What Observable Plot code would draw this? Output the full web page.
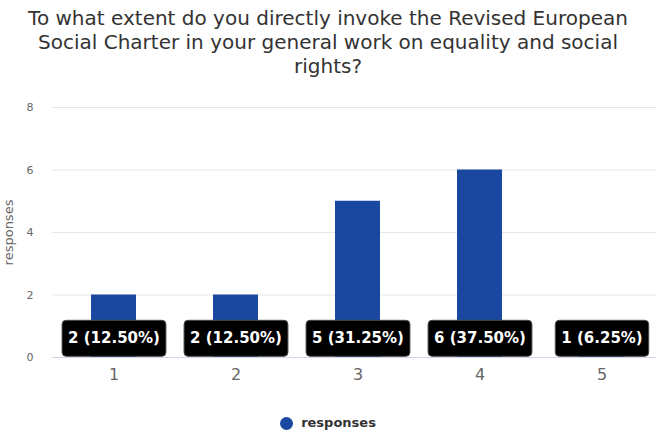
<!DOCTYPE html>
<html><head><meta charset="utf-8">
<script src="https://cdn.jsdelivr.net/npm/d3@7"></script>
<script src="https://cdn.jsdelivr.net/npm/@observablehq/plot@0.6"></script>
<style>
body{margin:0;background:#fff;font-family:"DejaVu Sans",sans-serif;}
#wrap{position:relative;width:656px;height:431px;overflow:hidden;background:#fff}
#title{position:absolute;top:6px;left:0;width:656px;text-align:center;font-size:20px;line-height:24px;color:#333}
#chart{position:absolute;top:78px;left:0}
#legend{position:absolute;top:415px;left:0;width:656px;display:flex;justify-content:center;align-items:center;font-size:13px;font-weight:bold;color:#333;line-height:16px}
#legend .sw{display:inline-block;width:13px;height:13px;border-radius:50%;margin-right:8px}
</style></head>
<body>
<div id="wrap">
  <div id="title">To what extent do you directly invoke the Revised European<br>Social Charter in your general work on equality and social<br>rights?</div>
  <div id="chart"></div>
  <div id="legend"><span class="sw"></span><span id="legtext"></span></div>
</div>
<script>
const categories = ["1", "2", "3", "4", "5"];
const responses = [2, 2, 5, 6, 1];
const yTicks = [0, 2, 4, 6, 8];
const seriesName = "responses";
const barColor = "#1a47a0";

const total = d3.sum(responses);
const data = categories.map((c, i) => ({
  cat: c,
  value: responses[i],
  label: `${responses[i]} (${(responses[i] / total * 100).toFixed(2)}%)`
}));

const chart = Plot.plot({
  width: 656,
  height: 320,
  marginLeft: 52,
  marginRight: 0,
  marginTop: 29,
  marginBottom: 41,
  style: {fontFamily: "'DejaVu Sans', sans-serif", background: "transparent"},
  x: {type: "band", domain: categories, range: [52.5, 662.5], paddingInner: 0.63, paddingOuter: 0.315},
  y: {domain: [0, 8], range: [279, 29]},
  marks: [
    Plot.gridY(yTicks.filter(d => d > 0), {stroke: "#e6e6e6", strokeOpacity: 1}),
    Plot.barY(data, {x: "cat", y: "value", fill: barColor}),
    Plot.ruleY([0], {stroke: "#ccd6eb"}),
    Plot.axisY({ticks: yTicks, tickSize: 0, tickPadding: 19, fontSize: 11, fill: "#666", label: null}),
    Plot.axisX({tickSize: 0, tickPadding: 11, fontSize: 16, fill: "#666", label: null}),
    Plot.text([seriesName], {frameAnchor: "left", textAnchor: "middle", rotate: -90, dx: -44, fill: "#666", fontSize: 13}),
    Plot.text(data, {x: "cat", y: 0, dy: -19, text: "label", fill: "white", fontWeight: "bold", fontSize: 15})
  ]
});
document.getElementById("chart").appendChild(chart);
document.querySelector("#legend .sw").style.background = barColor;
document.getElementById("legtext").textContent = seriesName;

// rounded boxes behind the percentage labels
const labelSet = new Set(data.map(d => d.label));
const svg = chart.tagName.toLowerCase() === "svg" ? chart : chart.querySelector("svg");
svg.querySelectorAll("text").forEach(t => {
  if (!labelSet.has(t.textContent)) return;
  const b = t.getBBox();
  const r = document.createElementNS("http://www.w3.org/2000/svg", "rect");
  const cy = b.y + b.height / 2;
  r.setAttribute("x", b.x - 6);
  r.setAttribute("y", cy - 18);
  r.setAttribute("width", b.width + 12);
  r.setAttribute("height", 36);
  r.setAttribute("rx", 4);
  r.setAttribute("fill", "#000");
  r.setAttribute("stroke", "#4a4a4a");
  r.setAttribute("stroke-width", 1);
  if (t.getAttribute("transform")) r.setAttribute("transform", t.getAttribute("transform"));
  t.parentNode.insertBefore(r, t);
});
</script>
</body></html>
